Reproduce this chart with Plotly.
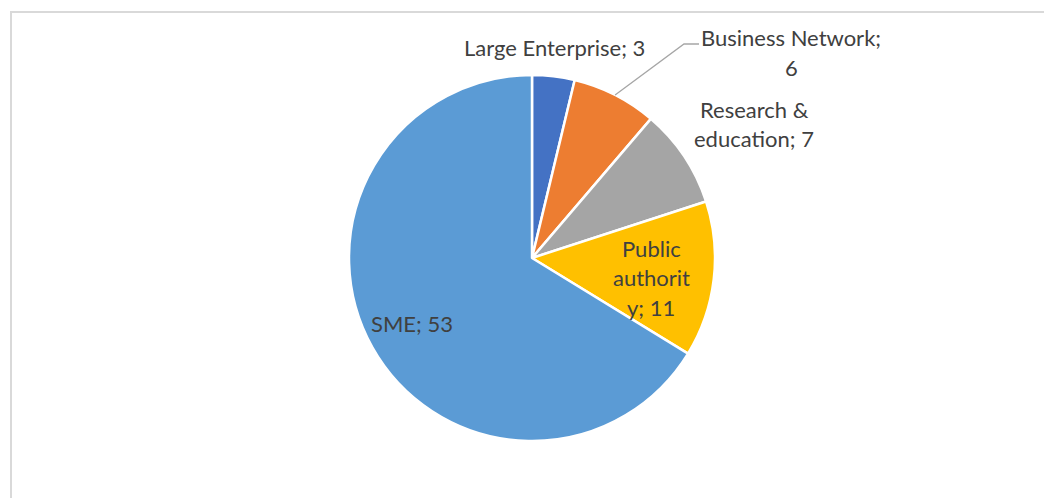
import math
import plotly.graph_objects as go

# Participants by organisation type
categories = ["Large Enterprise", "Business Network", "Research & education",
              "Public authority", "SME"]
counts = [3, 6, 7, 11, 53]
colors = ["#4472C4", "#ED7D31", "#A5A5A5", "#FFC000", "#5B9BD5"]

W, H = 1044, 498
CX, CY, R = 532, 258, 183   # pie centre and radius in pixels

def px(x):
    return x / W

def py(y):
    return 1 - y / H

fig = go.Figure(go.Pie(
    labels=categories,
    values=counts,
    sort=False,
    direction="clockwise",
    rotation=0,
    marker=dict(colors=colors, line=dict(color="white", width=2.5)),
    textinfo="none",
    hoverinfo="label+value",
    showlegend=False,
    domain=dict(x=[px(CX - R), px(CX + R)], y=[py(CY + R), py(CY - R)]),
))

FONT = dict(family="Lato, Carlito, sans-serif", size=22, color="#404040")

# label text broken into lines the way the chart wraps them
lines = {
    0: [f"{categories[0]}; {counts[0]}"],
    1: ["Business Network;", str(counts[1])],
    2: ["Research &", f"education; {counts[2]}"],
    3: ["Public", "authorit", f"y; {counts[3]}"],
    4: [f"{categories[4]}; {counts[4]}"],
}
# centre of each label block (pixels) and line spacing
anchors = {
    0: (554, 48),
    1: (791, 37),
    2: (754, 109),
    3: (651, 248),
    4: (412, 323),
}
spacing = {0: 0, 1: 30, 2: 29, 3: 29.5, 4: 0}

annotations = []
for i, ls in lines.items():
    ax, ay = anchors[i]
    for k, t in enumerate(ls):
        annotations.append(dict(
            x=px(ax), y=py(ay + k * spacing[i]), xref="paper", yref="paper",
            text=t, showarrow=False, font=FONT,
            xanchor="center", yanchor="middle",
        ))

# leader line from the Business Network slice edge to its label
total = sum(counts)
mid = (sum(counts[:1]) + counts[1] / 2) / total * 2 * math.pi
ex, ey = CX + R * math.sin(mid), CY - R * math.cos(mid)
shapes = [
    dict(type="path", xref="paper", yref="paper",
         path=f"M {px(ex)} {py(ey)} L {px(684)} {py(44)} L {px(699)} {py(44)}",
         line=dict(color="#A6A6A6", width=1.3)),
    # chart frame
    dict(type="rect", xref="paper", yref="paper",
         x0=px(11), y0=py(12), x1=px(W + 20), y1=py(H + 20),
         line=dict(color="#D9D9D9", width=2), fillcolor="rgba(0,0,0,0)"),
]

fig.update_layout(
    width=W, height=H,
    margin=dict(l=0, r=0, t=0, b=0),
    paper_bgcolor="white",
    plot_bgcolor="white",
    annotations=annotations,
    shapes=shapes,
)

fig.write_html("out.html", config={"displayModeBar": False})
